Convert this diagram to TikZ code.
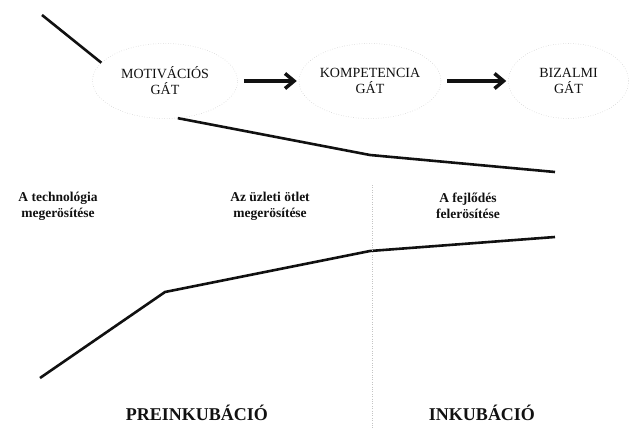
\documentclass[tikz,border=0pt]{standalone}
\usepackage{fontspec}
\setmainfont{Liberation Serif}
\usepackage{xcolor}
\usetikzlibrary{arrows.meta,positioning,shapes.geometric}
\definecolor{ink}{HTML}{111111}
\definecolor{haze}{HTML}{C4C4C4}

\begin{document}
\begin{tikzpicture}[x=1pt,y=-1pt,>={Straight Barb[length=9pt,width=15pt]},font=\fontsize{14}{16}\selectfont]
\tikzset{gate/.style={ellipse,draw=haze,dotted,line width=0.5pt,minimum height=75pt,inner sep=0pt,align=center,text=ink},push/.style={->,line width=3.5pt,draw=ink,shorten <=6pt,shorten >=2pt},trend/.style={line width=2.6pt,draw=ink,line join=round},stage/.style={align=center,font=\fontsize{13.5}{16}\selectfont\bfseries,text=ink},phase/.style={font=\fontsize{18}{20}\selectfont\bfseries,text=ink}}
\useasboundingbox (0,0) rectangle (632,428);
\node[gate,minimum width=145pt] (motiv) at (165,81) {MOTIVÁCIÓS\\GÁT};
\node[gate,minimum width=142pt,right=61pt of motiv] (kompet) {KOMPETENCIA\\GÁT};
\node[gate,minimum width=120pt,right=67pt of kompet] (bizalom) {BIZALMI\\GÁT};
\draw[push] (motiv) -- (kompet); \draw[push] (kompet) -- (bizalom);
% lines of the two curves
\coordinate (start) at (42,15);
\coordinate (upkink) at (370,155); \coordinate (upend) at (555,172);
\coordinate (lowstart) at (40,378); \coordinate (lowbend) at (165,292);
\coordinate (lowkink) at (370,251); \coordinate (lowend) at (555,237);
\draw[trend] (start) -- (motiv.164);
\draw[trend] (motiv.-71) -- (upkink) -- (upend);
\draw[trend] (lowstart) -- (lowbend) -- (lowkink) -- (lowend);
\coordinate (splittop) at (372,185); \coordinate (splitbot) at (372,428);
\draw[haze,dotted,line width=0.4pt] (splittop) -- (splitbot);
\node[stage] (tech) at (58,206) {A technológia\\megerösítése};
\node[stage] (otlet) at (270,206) {Az üzleti ötlet\\megerösítése};
\node[stage] (fejl) at (468,206) {A fejlődés\\felerösítése};
\node[phase] (pre) at (197,413) {PREINKUBÁCIÓ};
\node[phase] (inku) at (482,413) {INKUBÁCIÓ};
\end{tikzpicture}
\end{document}
